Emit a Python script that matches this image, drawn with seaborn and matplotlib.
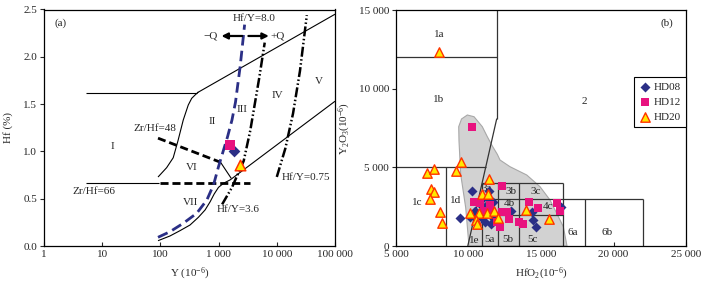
import matplotlib
matplotlib.use('Agg')
import matplotlib.pyplot as plt
import seaborn as sns
import pandas as pd

# ---------------- Panel (a) : Hf (%) vs Y (ppm) ----------------
a_samples = ['HD08', 'HD12', 'HD20']
a_Y = [1811, 1585, 2300]
a_Hf = [1.004, 1.068, 0.856]

a_xticks = [1, 10, 100, 1000, 10000, 100000]
a_xticklabels = ['1', '10', '100', '1 000', '10 000', '100 000']
a_yticks = [0.0, 0.5, 1.0, 1.5, 2.0, 2.5]
a_yticklabels = ['0.0', '0.5', '1.0', '1.5', '2.0', '2.5']

# reference boundaries of the diagram
upper_h_Y, upper_h_Hf = [5.3, 430], [1.62, 1.62]
upper_d_Y, upper_d_Hf = [430, 100000], [1.62, 2.45]
curve_I_Y = [91, 128, 166, 200, 247, 301, 345, 400, 450]
curve_I_Hf = [0.729, 0.828, 0.933, 1.11, 1.332, 1.49, 1.561, 1.60, 1.628]
lower_Y = [91, 146, 217, 323, 449, 586, 716, 840, 996, 1216, 1588, 100000]
lower_Hf = [0.056, 0.106, 0.162, 0.222, 0.303, 0.381, 0.468, 0.550, 0.620, 0.663, 0.700, 1.53]
navy_Y = [91, 146, 247, 421, 628, 817, 996, 1216, 1425, 1698, 1950, 2350, 2800]
navy_Hf = [0.092, 0.151, 0.240, 0.346, 0.486, 0.645, 0.838, 1.015, 1.155, 1.332, 1.52, 1.90, 2.34]
r36_Y = [1150, 1700, 2700, 3500, 4000, 5000, 6200]
r36_Hf = [0.44, 0.62, 0.90, 1.22, 1.43, 1.78, 2.15]
r075_Y = [10000, 14000, 19000, 25000, 32800]
r075_Hf = [0.73, 1.03, 1.40, 1.85, 2.44]
zr48_Y, zr48_Hf = [91, 1080], [1.14, 0.885]
vi_Y, vi_Hf = [1080, 1650], [0.885, 0.715]
zr66_thin_Y, zr66_thin_Hf = [5.3, 93], [0.663, 0.663]
zr66_dash_Y, zr66_dash_Hf = [100, 3520], [0.663, 0.663]

# ---------------- Panel (b) : Y2O3 vs HfO2 ----------------
hd08_hfo2 = [9414, 10221, 10690, 10862, 11138, 11021, 11483, 11711, 10449, 10862,
             11138, 11552, 11725, 10104, 12932, 14359, 14414, 14635, 16380, 11414]
hd08_y2o3 = [1811, 3477, 2860, 2606, 2479, 3032, 2924, 2797, 2225, 1862,
             1545, 1367, 1716, 1843, 2256, 2161, 1653, 1189, 2460, 3496]
hd12_hfo2 = [10262, 12290, 10380, 10793, 11483, 11069, 12290, 12635, 11945, 12138,
             12814, 13463, 13759, 14173, 14773, 16083, 16290, 11621]
hd12_y2o3 = [7583, 3845, 2765, 2733, 2606, 2193, 2180, 2180, 1545, 1239,
             1697, 1545, 1398, 2778, 2415, 2752, 2206, 2097]
hd20_hfo2 = [7966, 7117, 7621, 7393, 7621, 7345, 8035, 8152, 9118, 9462, 11435,
             10911, 11311, 10069, 10690, 11256, 11759, 12014, 10518, 10587, 13952, 15539]
hd20_y2o3 = [12350, 4621, 4913, 3604, 3451, 2968, 2161, 1481, 4767, 5358, 4239,
             3286, 3286, 2129, 2117, 2129, 2225, 1780, 1672, 1398, 2288, 1697]

b_xticks = [5000, 10000, 15000, 20000, 25000]
b_xticklabels = ['5 000', '10 000', '15 000', '20 000', '25 000']
b_yticks = [0, 5000, 10000, 15000]
b_yticklabels = ['0', '5 000', '10 000', '15 000']

gray_hfo2 = [10035, 9807, 9462, 9345, 9325, 9518, 9918, 10380, 10952, 11297, 11642,
             11987, 12173, 12863, 14015, 14932, 15621, 16083, 16538, 16794]
gray_y2o3 = [0, 2434, 4557, 6674, 7583, 8072, 8326, 8218, 7583, 6947, 6356,
             5828, 5466, 5040, 4513, 3769, 2924, 2078, 1227, 0]

# boundary segments: (x0, x1, y0, y1)
b_segments = [
    (5000, 11950, 12000, 12000),
    (11950, 11950, 8100, 15000),
    (9950, 11950, 0, 8100),
    (5000, 11185, 5000, 5000),
    (8450, 8450, 0, 5000),
    (10900, 16500, 4000, 4000),
    (10900, 10900, 0, 4000),
    (12000, 12000, 0, 4000),
    (13500, 13500, 0, 4000),
    (16500, 16500, 0, 4000),
    (10900, 22000, 3000, 3000),
    (10900, 16500, 2000, 2000),
    (18000, 18000, 0, 3000),
    (22000, 22000, 0, 3000),
]
b_region_labels = ['1a', '1b', '2', '1c', '1d', '1e', '3a', '4a', '3b', '3c', '4b', '4c',
                   '5a', '5b', '5c', '6a', '6b']
b_region_x = [7966, 7966, 17966, 6469, 9118, 10428, 11276, 11414, 12911, 14635, 12793,
              15504, 11414, 12724, 14400, 17159, 19573]
b_region_y = [13456, 9280, 9172, 2752, 2905, 362, 3686, 2670, 3451, 3451, 2714,
              2479, 426, 426, 426, 845, 845]

# ---------------- styling ----------------
sns.set_theme(style='ticks', context='paper')
plt.rcParams['font.family'] = ['Liberation Serif', 'DejaVu Serif']
plt.rcParams['mathtext.fontset'] = 'custom'
plt.rcParams['mathtext.rm'] = 'Liberation Serif'
plt.rcParams['mathtext.it'] = 'Liberation Serif:italic'
plt.rcParams['axes.linewidth'] = 0.9
plt.rcParams['axes.edgecolor'] = 'black'

FS = 8
NAVY = '#2b2f86'
MAG = '#e8127f'
YEL = '#ffe800'
RED = '#ff3300'

fig = plt.figure(figsize=(7.08, 2.82), dpi=100)
ax1 = fig.add_axes([44/708, 36/282, 291/708, 236.5/282])
ax2 = fig.add_axes([396/708, 36/282, 290/708, 236/282])

# ---------- panel a ----------
ax1.set_xscale('log')
thin = dict(color='black', lw=0.8, solid_capstyle='butt')
ax1.plot(upper_h_Y, upper_h_Hf, **thin)
ax1.plot(upper_d_Y, upper_d_Hf, **thin)
ax1.plot(curve_I_Y, curve_I_Hf, **thin)
ax1.plot(lower_Y, lower_Hf, **thin)
ax1.plot(vi_Y, vi_Hf, **thin)
ax1.plot(zr66_thin_Y, zr66_thin_Hf, **thin)
ax1.plot(zr48_Y, zr48_Hf, color='black', lw=2.0, dashes=(2.9, 1.4))
ax1.plot(zr66_dash_Y, zr66_dash_Hf, color='black', lw=2.0, dashes=(2.9, 1.4))
ax1.plot(navy_Y, navy_Hf, color=NAVY, lw=2.0, dashes=(3.8, 1.9))
ddot = (4.0, 1.0, 0.6, 1.0, 0.6, 1.0)
ax1.plot(r36_Y, r36_Hf, color='black', lw=1.8, dashes=ddot)
ax1.plot(r075_Y, r075_Hf, color='black', lw=1.8, dashes=ddot)

sns.scatterplot(x=[a_Y[0]], y=[a_Hf[0]], marker='D', s=36, color=NAVY, linewidth=0, ax=ax1, zorder=5)
sns.scatterplot(x=[a_Y[1]], y=[a_Hf[1]], marker='s', s=46, color=MAG, linewidth=0, ax=ax1, zorder=5)
sns.scatterplot(x=[a_Y[2]], y=[a_Hf[2]], marker='^', s=58, color=YEL, edgecolor=RED, linewidth=1.1, ax=ax1, zorder=6)

ax1.set_xlim(1, 100000)
ax1.set_ylim(0, 2.5)
ax1.set_xticks(a_xticks)
ax1.set_xticklabels(a_xticklabels)
ax1.minorticks_off()
ax1.set_yticks(a_yticks)
ax1.set_yticklabels(a_yticklabels)
ax1.tick_params(axis='x', direction='in', length=3, width=0.8, labelsize=FS, pad=3)
ax1.tick_params(axis='y', direction='out', length=3, width=0.8, labelsize=FS, pad=2)
ax1.set_xlabel('Y (10$^{-6}$)', fontsize=FS)
ax1.set_ylabel('Hf (%)', fontsize=FS)
ax1.xaxis.set_label_coords(0.5, -0.085)
ax1.yaxis.set_label_coords(-0.105, 0.5)

txt = dict(fontsize=FS, ha='center', va='center')
ax1.text(1.94, 2.354, '(a)', **txt)
ax1.text(4000, 2.41, 'Hf/Y=8.0', **txt)
ax1.text(740, 2.22, '\u2212Q', **txt)
ax1.text(10200, 2.22, '+Q', **txt)
ax1.annotate('', xy=(1120, 2.22), xytext=(2530, 2.22),
             arrowprops=dict(arrowstyle='-|>', color='black', lw=1.6, mutation_scale=9, shrinkA=0, shrinkB=0))
ax1.annotate('', xy=(7300, 2.22), xytext=(3250, 2.22),
             arrowprops=dict(arrowstyle='-|>', color='black', lw=1.6, mutation_scale=9, shrinkA=0, shrinkB=0))
ax1.text(766, 1.314, 'II', **txt)
ax1.text(2530, 1.438, 'III', **txt)
ax1.text(10200, 1.596, 'IV', **txt)
ax1.text(53500, 1.737, 'V', **txt)
ax1.text(15.2, 1.057, 'I', **txt)
ax1.text(345, 0.828, 'VI', **txt)
ax1.text(323, 0.458, 'VII', **txt)
ax1.text(80, 1.244, 'Zr/Hf=48', **txt)
ax1.text(7.3, 0.581, 'Zr/Hf=66', **txt)
ax1.text(31500, 0.722, 'Hf/Y=0.75', **txt)
ax1.text(2210, 0.388, 'Hf/Y=3.6', **txt)

# ---------- panel b ----------
ax2.fill(gray_hfo2, gray_y2o3, facecolor='#d2d2d2', edgecolor='#a8a8a8', lw=0.8, zorder=1)
for x0, x1, y0, y1 in b_segments:
    ax2.plot([x0, x1], [y0, y1], color='#333333', lw=0.9, zorder=2, solid_capstyle='butt')
for lab, x, y in zip(b_region_labels, b_region_x, b_region_y):
    ax2.text(x, y, lab, fontsize=FS, ha='center', va='center', zorder=3)
ax2.text(23712, 14193, '(b)', fontsize=FS, ha='center', va='center')

sns.scatterplot(x=hd08_hfo2, y=hd08_y2o3, marker='D', s=26, color=NAVY, linewidth=0,
                ax=ax2, zorder=5, label='HD08')
sns.scatterplot(x=hd12_hfo2, y=hd12_y2o3, marker='s', s=30, color=MAG, linewidth=0,
                ax=ax2, zorder=6, label='HD12')
sns.scatterplot(x=hd20_hfo2, y=hd20_y2o3, marker='^', s=46, color=YEL, edgecolor=RED,
                linewidth=1.0, ax=ax2, zorder=7, label='HD20')

ax2.set_xlim(5000, 25000)
ax2.set_ylim(0, 15000)
ax2.set_xticks(b_xticks)
ax2.set_xticklabels(b_xticklabels)
ax2.set_yticks(b_yticks)
ax2.set_yticklabels(b_yticklabels)
ax2.tick_params(axis='x', direction='in', length=3, width=0.8, labelsize=FS, pad=3)
ax2.tick_params(axis='y', direction='out', length=3, width=0.8, labelsize=FS, pad=2)
ax2.set_xlabel('HfO$_2$(10$^{-6}$)', fontsize=FS)
ax2.set_ylabel('Y$_2$O$_3$(10$^{-6}$)', fontsize=FS)
ax2.xaxis.set_label_coords(0.5, -0.085)
ax2.yaxis.set_label_coords(-0.148, 0.5)

leg = ax2.legend(loc='upper right', bbox_to_anchor=(1.0, 0.717), frameon=True, fancybox=False,
                 edgecolor='black', framealpha=1, fontsize=FS, borderaxespad=0,
                 handletextpad=0.3, labelspacing=0.5, borderpad=0.45, handlelength=1.0)
leg.get_frame().set_linewidth(0.8)

for ax in (ax1, ax2):
    for sp in ax.spines.values():
        sp.set_visible(True)
        sp.set_color('black')
        sp.set_linewidth(0.9)

fig.savefig('out.png', dpi=100)
